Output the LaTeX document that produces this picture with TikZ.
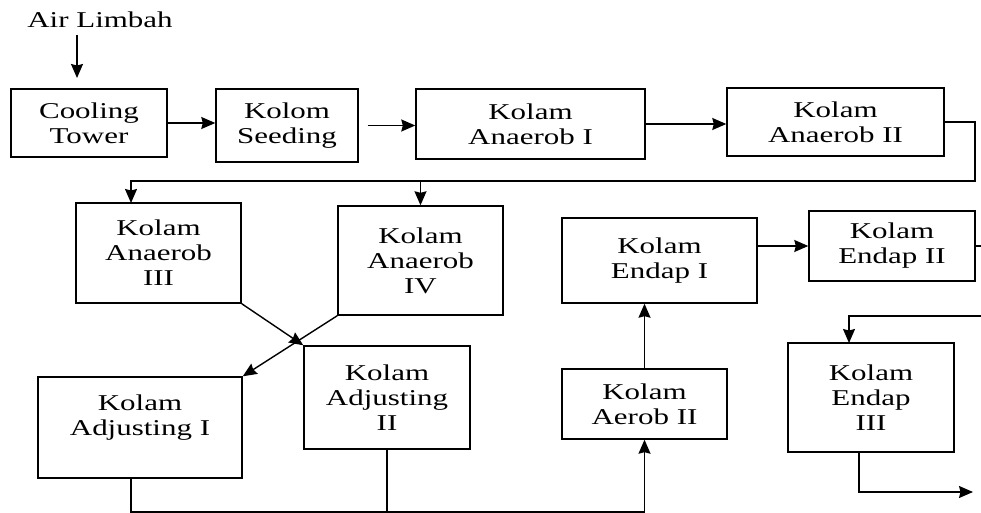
\documentclass[tikz,border=0pt]{standalone}
\usepackage{fontspec}
\setmainfont[FakeStretch=1.37]{Liberation Serif}
\usetikzlibrary{arrows.meta}
\tikzset{
  ->,
  >={Stealth[length=14pt,width=12pt,inset=1.5pt]},
  kolam/.style={draw, -, align=center, inner sep=2pt},
}

\begin{document}
\begin{tikzpicture}[x=1pt, y=-1pt, line width=1.4pt, >={Stealth[length=14pt,width=12pt,inset=1.5pt]},
                    font=\fontsize{22.6}{25}\selectfont]
      \useasboundingbox (0,0) rectangle (981,513);

      \node[inner sep=0pt] (air) at (100,20) {Air Limbah};
      \node[kolam, minimum width=156pt, minimum height=68pt]  (cooling) at (89,123)     {Cooling\\Tower};
      \node[kolam, minimum width=142pt, minimum height=73pt]  (seeding) at (287,125.5)  {Kolom\\Seeding};
      \node[kolam, minimum width=229pt, minimum height=70pt]  (an1)     at (530.5,124)  {Kolam\\Anaerob I};
      \node[kolam, minimum width=217pt, minimum height=68pt]  (an2)     at (835.5,122)  {Kolam\\Anaerob II};
      \node[kolam, minimum width=165pt, minimum height=100pt] (an3)     at (158.5,253)  {Kolam\\Anaerob\\III};
      \node[kolam, minimum width=165pt, minimum height=109pt] (an4)     at (420.5,260.5){Kolam\\Anaerob\\IV};
      \node[kolam, minimum width=204pt, minimum height=101pt] (adj1)    at (140,427.5)  {Kolam\\Adjusting I\\\mbox{}};
      \node[kolam, minimum width=166pt, minimum height=103pt] (adj2)    at (387,397.5)  {Kolam\\Adjusting\\II};
      \node[kolam, minimum width=165pt, minimum height=70pt]  (aer2)    at (644.5,404)  {Kolam\\Aerob II};
      \node[kolam, minimum width=195pt, minimum height=85pt]  (end1)    at (659.5,260.5){Kolam\\Endap I};
      \node[kolam, minimum width=166pt, minimum height=70pt]  (end2)    at (892,246)    {Kolam\\Endap II};
      \node[kolam, minimum width=166pt, minimum height=109pt] (end3)    at (871,397.5)  {Kolam\\Endap\\III};

      % free ends
      \coordinate (in)    at (77,78);
      \coordinate (turn)  at (975,181);
      \coordinate (an3in) at (131,203);
      \coordinate (bot)   at (131,512);
      \coordinate (out1)  at (981,246);
      \coordinate (out2)  at (981,316);
      \coordinate (end3in) at (849,343);
      \coordinate (out3)  at (973,492);

      \draw[shorten <=6pt] (air.south -| in) -- (in);
      \draw (cooling) -- (cooling -| seeding.west);
      \draw[shorten <=9pt] (seeding.east) -- (seeding.east -| an1.west);
      \draw (an1) -- (an1 -| an2.west);
      \draw (an2.east) -| (turn) -| (an3in);
      \draw (an4.north |- turn) -- (an4.north);
      \draw (an3.south east) -- (adj2.north west);
      \draw (an4.south west) -- (adj1.north east);
      \draw (adj1.south -| bot) -- (bot) -| (aer2.south);
      \draw[-] (adj2.south) -- (adj2.south |- bot);
      \draw (aer2.north) -- (aer2.north |- end1.south);
      \draw (end1.east |- end2) -- (end2.west);
      \draw[-] (end2.east) -- (out1);
      \draw (out2) -| (end3in);
      \draw ([xshift=-12pt]end3.south) |- (out3);
\end{tikzpicture}
\end{document}
